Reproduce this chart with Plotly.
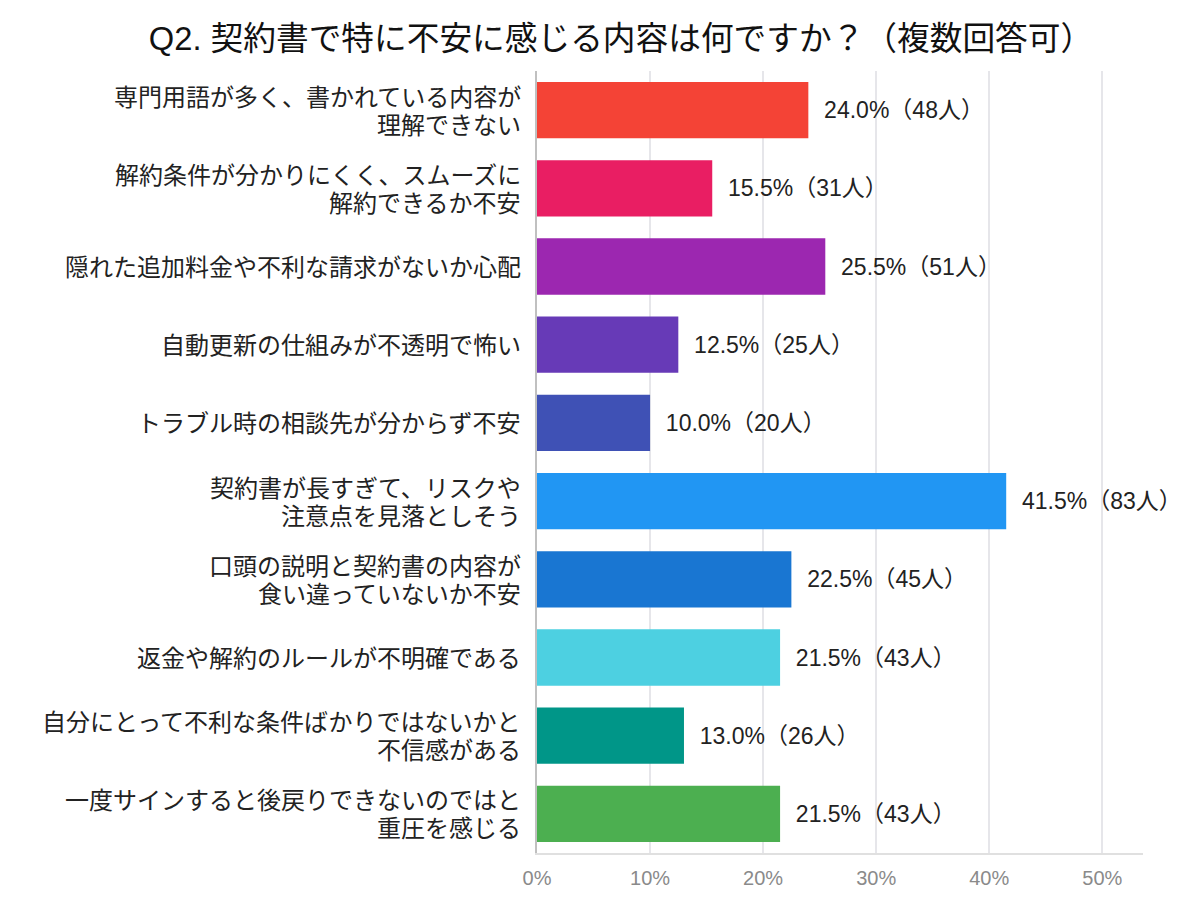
import plotly.graph_objects as go

categories = [
    "専門用語が多く、書かれている内容が<br>理解できない",
    "解約条件が分かりにくく、スムーズに<br>解約できるか不安",
    "隠れた追加料金や不利な請求がないか心配",
    "自動更新の仕組みが不透明で怖い",
    "トラブル時の相談先が分からず不安",
    "契約書が長すぎて、リスクや<br>注意点を見落としそう",
    "口頭の説明と契約書の内容が<br>食い違っていないか不安",
    "返金や解約のルールが不明確である",
    "自分にとって不利な条件ばかりではないかと<br>不信感がある",
    "一度サインすると後戻りできないのではと<br>重圧を感じる",
]
percents = [24.0, 15.5, 25.5, 12.5, 10.0, 41.5, 22.5, 21.5, 13.0, 21.5]
counts = [48, 31, 51, 25, 20, 83, 45, 43, 26, 43]
colors = ["#F44336", "#E91E63", "#9C27B0", "#673AB7", "#3F51B5",
          "#2196F3", "#1976D2", "#4DD0E1", "#009688", "#4CAF50"]
tick_vals = [0, 10, 20, 30, 40, 50]
tick_text = ["0%", "10%", "20%", "30%", "40%", "50%"]

FONT = "Liberation Sans, Noto Sans CJK JP, sans-serif"

labels = [f"  {p:.1f}%（{c}人）" for p, c in zip(percents, counts)]

fig = go.Figure(go.Bar(
    x=percents, y=categories, orientation="h",
    marker=dict(color=colors, line=dict(width=0)),
    width=0.72,
    text=labels, textposition="outside",
    textfont=dict(size=23, color="#222", family=FONT),
    cliponaxis=False,
))

# category labels as annotations (one per line) for tighter line spacing
line_gap = 28
for cat in categories:
    lines = cat.split("<br>")
    n = len(lines)
    for i, ln in enumerate(lines):
        shift = ((n - 1) / 2 - i) * line_gap - 1
        fig.add_annotation(
            text=ln, x=0, xref="paper", xanchor="right", xshift=-14,
            y=cat, yref="y", yanchor="middle", yshift=shift,
            showarrow=False, font=dict(size=24, color="#222", family=FONT),
        )

fig.update_layout(
    width=1200, height=910,
    margin=dict(l=537, r=57, t=71, b=57),
    paper_bgcolor="white", plot_bgcolor="white",
    font=dict(family=FONT, color="#222"),
    title=dict(text="Q2. 契約書で特に不安に感じる内容は何ですか？（複数回答可）",
               x=0.5175, xanchor="center", y=0.958, yanchor="middle",
               font=dict(size=32.7, color="#111", family=FONT)),
    showlegend=False,
    bargap=0.28,
)
fig.update_xaxes(range=[0, 53.6], tickvals=tick_vals, ticktext=tick_text,
                 showgrid=True, gridcolor="#e6e6ea", gridwidth=1.5,
                 zeroline=False, showline=True, linecolor="#e0e0e0", linewidth=2,
                 tickfont=dict(size=20, color="#8a8a8a"), ticks="", ticklabelstandoff=6)
fig.update_yaxes(autorange="reversed", showgrid=False, zeroline=False,
                 showline=True, linecolor="#c0c0c0", linewidth=2,
                 showticklabels=False, ticks="")

fig.write_html("out.html")
